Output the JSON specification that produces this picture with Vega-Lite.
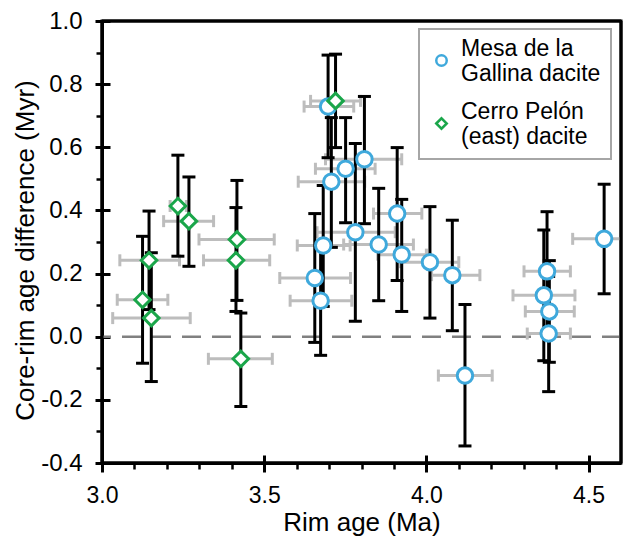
{
  "$schema": "https://vega.github.io/schema/vega-lite/v6.json",
  "width": 519,
  "height": 442,
  "autosize": {"type": "none"},
  "padding": {"left": 102, "top": 21, "right": 2, "bottom": 77},
  "background": "white",
  "config": {
    "view": {"stroke": "black", "strokeWidth": 3},
    "font": "Liberation Sans",
    "axis": {"grid": false, "tickColor": "black", "labelColor": "black", "titleColor": "black", "labelFont": "Liberation Sans", "titleFont": "Liberation Sans", "titleFontWeight": "normal", "labelFlush": false, "labelOverlap": false, "domainColor": "black", "domainWidth": 3},
    "legend": {"strokeColor": "#A6A6A6", "strokeWidth": 2}
  },
  "datasets": {
    "frame": [
      {"fx": 3.0, "fx2": 3.0, "fy": -0.4, "fy2": 1.0},
      {"fx": 4.6, "fx2": 4.6, "fy": -0.4, "fy2": 1.0},
      {"fx": 3.0, "fx2": 4.6, "fy": 1.0, "fy2": 1.0},
      {"fx": 3.0, "fx2": 4.6, "fy": -0.4, "fy2": -0.4}
    ]
  },
  "data": {"values": [
    {"series": "Mesa de la Gallina dacite", "x": 3.697, "y": 0.729, "xlo": 3.623, "xhi": 3.776, "ylo": 0.567, "yhi": 0.892},
    {"series": "Mesa de la Gallina dacite", "x": 3.707, "y": 0.491, "xlo": 3.605, "xhi": 3.81, "ylo": 0.283, "yhi": 0.694},
    {"series": "Mesa de la Gallina dacite", "x": 3.751, "y": 0.532, "xlo": 3.658, "xhi": 3.842, "ylo": 0.361, "yhi": 0.694},
    {"series": "Mesa de la Gallina dacite", "x": 3.809, "y": 0.562, "xlo": 3.689, "xhi": 3.924, "ylo": 0.358, "yhi": 0.761},
    {"series": "Mesa de la Gallina dacite", "x": 3.682, "y": 0.289, "xlo": 3.602, "xhi": 3.765, "ylo": 0.096, "yhi": 0.479},
    {"series": "Mesa de la Gallina dacite", "x": 3.656, "y": 0.186, "xlo": 3.548, "xhi": 3.766, "ylo": -0.018, "yhi": 0.39},
    {"series": "Mesa de la Gallina dacite", "x": 3.674, "y": 0.114, "xlo": 3.58, "xhi": 3.77, "ylo": -0.059, "yhi": 0.287},
    {"series": "Mesa de la Gallina dacite", "x": 3.781, "y": 0.331, "xlo": 3.663, "xhi": 3.904, "ylo": 0.049, "yhi": 0.612},
    {"series": "Mesa de la Gallina dacite", "x": 3.853, "y": 0.292, "xlo": 3.745, "xhi": 3.96, "ylo": 0.114, "yhi": 0.47},
    {"series": "Mesa de la Gallina dacite", "x": 3.91, "y": 0.39, "xlo": 3.837, "xhi": 3.986, "ylo": 0.178, "yhi": 0.599},
    {"series": "Mesa de la Gallina dacite", "x": 3.924, "y": 0.26, "xlo": 3.85, "xhi": 4.0, "ylo": 0.08, "yhi": 0.435},
    {"series": "Mesa de la Gallina dacite", "x": 4.011, "y": 0.236, "xlo": 3.92, "xhi": 4.1, "ylo": 0.059, "yhi": 0.412},
    {"series": "Mesa de la Gallina dacite", "x": 4.08, "y": 0.195, "xlo": 4.016, "xhi": 4.165, "ylo": 0.019, "yhi": 0.369},
    {"series": "Mesa de la Gallina dacite", "x": 4.119, "y": -0.123, "xlo": 4.037, "xhi": 4.203, "ylo": -0.346, "yhi": 0.102},
    {"series": "Mesa de la Gallina dacite", "x": 4.372, "y": 0.207, "xlo": 4.301, "xhi": 4.444, "ylo": 0.017, "yhi": 0.396},
    {"series": "Mesa de la Gallina dacite", "x": 4.362, "y": 0.131, "xlo": 4.267, "xhi": 4.458, "ylo": -0.076, "yhi": 0.338},
    {"series": "Mesa de la Gallina dacite", "x": 4.379, "y": 0.08, "xlo": 4.305, "xhi": 4.456, "ylo": -0.081, "yhi": 0.241},
    {"series": "Mesa de la Gallina dacite", "x": 4.377, "y": 0.01, "xlo": 4.311, "xhi": 4.444, "ylo": -0.174, "yhi": 0.191},
    {"series": "Mesa de la Gallina dacite", "x": 4.548, "y": 0.31, "xlo": 4.451, "xhi": 4.645, "ylo": 0.136, "yhi": 0.483},
    {"series": "Cerro Pelón (east) dacite", "x": 3.234, "y": 0.414, "xlo": 3.21, "xhi": 3.26, "ylo": 0.255, "yhi": 0.575},
    {"series": "Cerro Pelón (east) dacite", "x": 3.268, "y": 0.366, "xlo": 3.19, "xhi": 3.344, "ylo": 0.223, "yhi": 0.506},
    {"series": "Cerro Pelón (east) dacite", "x": 3.145, "y": 0.242, "xlo": 3.055, "xhi": 3.239, "ylo": 0.086, "yhi": 0.398},
    {"series": "Cerro Pelón (east) dacite", "x": 3.125, "y": 0.117, "xlo": 3.047, "xhi": 3.203, "ylo": -0.084, "yhi": 0.318},
    {"series": "Cerro Pelón (east) dacite", "x": 3.152, "y": 0.059, "xlo": 3.033, "xhi": 3.272, "ylo": -0.142, "yhi": 0.266},
    {"series": "Cerro Pelón (east) dacite", "x": 3.416, "y": 0.308, "xlo": 3.299, "xhi": 3.531, "ylo": 0.115, "yhi": 0.495},
    {"series": "Cerro Pelón (east) dacite", "x": 3.413, "y": 0.242, "xlo": 3.313, "xhi": 3.517, "ylo": 0.08, "yhi": 0.409},
    {"series": "Cerro Pelón (east) dacite", "x": 3.428, "y": -0.07, "xlo": 3.328, "xhi": 3.525, "ylo": -0.221, "yhi": 0.075},
    {"series": "Cerro Pelón (east) dacite", "x": 3.72, "y": 0.747, "xlo": 3.643, "xhi": 3.797, "ylo": 0.599, "yhi": 0.895}
  ]},
  "resolve": {"axis": {"x": "independent", "y": "independent"}},
  "layer": [
    {
      "data": {"values": [{"ref": 0}]},
      "mark": {"type": "rule", "stroke": "#808080", "strokeWidth": 2.5, "strokeDash": [19, 11]},
      "encoding": {"y": {"field": "ref", "type": "quantitative", "axis": null}}
    },
    {
      "mark": {"type": "rule", "stroke": "#BDBDBD", "strokeWidth": 3, "clip": true},
      "encoding": {
        "x": {"field": "xlo", "type": "quantitative", "scale": {"domain": [3.0, 4.6], "nice": false, "zero": false},
          "axis": {"orient": "bottom", "domain": false, "values": [3.0, 3.5, 4.0, 4.5], "format": ".1f", "offset": -8, "tickSize": 17, "tickWidth": 3, "labelPadding": 12, "labelFontSize": 23, "title": "Rim age (Ma)", "titleFontSize": 26, "titleY": 75, "titleBaseline": "alphabetic"}},
        "x2": {"field": "xhi"},
        "y": {"field": "y", "type": "quantitative", "scale": {"domain": [-0.4, 1.0], "nice": false, "zero": false},
          "axis": {"orient": "left", "domain": false, "values": [-0.4, -0.2, 0, 0.2, 0.4, 0.6, 0.8, 1.0], "labelExpr": "(datum.value < 0 ? '-' : '') + format(abs(datum.value), '.1f')", "offset": -8, "tickSize": 15, "tickWidth": 3, "labelPadding": 13, "labelFontSize": 24, "title": "Core-rim age difference (Myr)", "titleFontSize": 26, "titleX": -77, "titleY": 229, "titleBaseline": "alphabetic", "titleAngle": 270}}
      }
    },
    {
      "transform": [{"fold": ["xlo", "xhi"], "as": ["end", "xe"]}],
      "mark": {"type": "tick", "orient": "vertical", "color": "#BDBDBD", "opacity": 1, "size": 12, "thickness": 3, "clip": true},
      "encoding": {
        "x": {"field": "xe", "type": "quantitative", "axis": {"orient": "bottom", "values": [3.1, 3.2, 3.3, 3.4, 3.6, 3.7, 3.8, 3.9, 4.1, 4.2, 4.3, 4.4], "tickSize": 6, "tickWidth": 2.5, "labels": false, "title": null, "domain": true}},
        "y": {"field": "y", "type": "quantitative", "axis": {"orient": "left", "values": [-0.3, -0.1, 0.1, 0.3, 0.5, 0.7, 0.9], "tickSize": 6, "tickWidth": 2.5, "labels": false, "title": null, "domain": true}}
      }
    },
    {
      "mark": {"type": "rule", "stroke": "black", "strokeWidth": 3},
      "encoding": {
        "x": {"field": "x", "type": "quantitative", "axis": null},
        "y": {"field": "ylo", "type": "quantitative", "axis": null},
        "y2": {"field": "yhi"}
      }
    },
    {
      "transform": [{"fold": ["ylo", "yhi"], "as": ["end", "ye"]}],
      "mark": {"type": "tick", "orient": "horizontal", "color": "black", "opacity": 1, "size": 13, "thickness": 3},
      "encoding": {
        "x": {"field": "x", "type": "quantitative", "axis": null},
        "y": {"field": "ye", "type": "quantitative", "axis": null}
      }
    },
    {
      "mark": {"type": "point", "fill": "white", "fillOpacity": 1, "opacity": 1, "strokeWidth": 3, "size": 240},
      "encoding": {
        "x": {"field": "x", "type": "quantitative", "axis": null},
        "y": {"field": "y", "type": "quantitative", "axis": null},
        "shape": {"field": "series", "type": "nominal",
          "scale": {"domain": ["Mesa de la Gallina dacite", "Cerro Pelón (east) dacite"], "range": ["circle", "diamond"]},
          "legend": {"title": " ", "titleFontSize": 6, "titlePadding": 4, "orient": "none", "legendX": 317, "legendY": 8, "padding": 10, "symbolOffset": 1, "labelOffset": 8, "labelFontSize": 23, "labelFont": "Liberation Sans", "labelColor": "black", "labelLimit": 400, "labelBaseline": "bottom", "symbolSize": 110, "symbolStrokeWidth": 2.5, "symbolFillColor": "white", "rowPadding": 14,
            "labelExpr": "datum.label == 'Mesa de la Gallina dacite' ? ['Mesa de la', 'Gallina dacite'] : ['Cerro Pelón', '(east) dacite']",
            "encode": {"labels": {"update": {"lineHeight": {"value": 28}}}}}},
        "stroke": {"field": "series", "type": "nominal",
          "scale": {"domain": ["Mesa de la Gallina dacite", "Cerro Pelón (east) dacite"], "range": ["#3FA9DC", "#1AA64A"]},
          "legend": {"title": " ", "titleFontSize": 6, "titlePadding": 4, "orient": "none", "legendX": 317, "legendY": 8, "padding": 10, "symbolOffset": 1, "labelOffset": 8, "labelFontSize": 23, "labelFont": "Liberation Sans", "labelColor": "black", "labelLimit": 400, "labelBaseline": "bottom", "symbolSize": 110, "symbolStrokeWidth": 2.5, "symbolFillColor": "white", "rowPadding": 14,
            "labelExpr": "datum.label == 'Mesa de la Gallina dacite' ? ['Mesa de la', 'Gallina dacite'] : ['Cerro Pelón', '(east) dacite']",
            "encode": {"labels": {"update": {"lineHeight": {"value": 28}}}}}}
      }
    },
    {
      "data": {"name": "frame"},
      "mark": {"type": "rule", "stroke": "black", "strokeWidth": 3, "clip": false},
      "encoding": {
        "x": {"field": "fx", "type": "quantitative", "axis": null},
        "x2": {"field": "fx2"},
        "y": {"field": "fy", "type": "quantitative", "axis": null},
        "y2": {"field": "fy2"}
      }
    }
  ]
}
